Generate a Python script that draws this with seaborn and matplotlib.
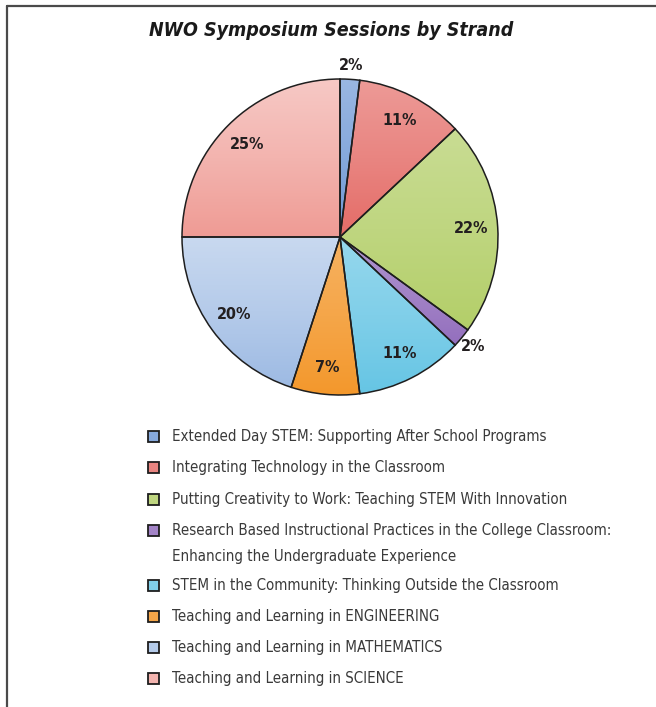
import colorsys
import numpy as np
import matplotlib
matplotlib.use("Agg")
import matplotlib.pyplot as plt
from matplotlib.patches import Rectangle
from matplotlib.lines import Line2D
from matplotlib.colors import to_rgb, LinearSegmentedColormap
import seaborn as sns

# ---- data ----
categories = [
    "Extended Day STEM: Supporting After School Programs",
    "Integrating Technology in the Classroom",
    "Putting Creativity to Work: Teaching STEM With Innovation",
    "Research Based Instructional Practices in the College Classroom:\nEnhancing the Undergraduate Experience",
    "STEM in the Community: Thinking Outside the Classroom",
    "Teaching and Learning in ENGINEERING",
    "Teaching and Learning in MATHEMATICS",
    "Teaching and Learning in SCIENCE",
]
shares = [2, 11, 22, 2, 11, 7, 20, 25]
colors = ["#86a9dc", "#e98581", "#bfd680", "#a384c7",
          "#80cfe9", "#f5a649", "#b5cbea", "#f3b4af"]
title = "NWO Symposium Sessions by Strand"

sns.set_theme(style="white")
FONT = ["Liberation Sans Narrow", "DejaVu Sans"]
plt.rcParams["font.family"] = FONT

W, H = 656, 707
fig = plt.figure(figsize=(W / 100, H / 100), dpi=100)
fig.patch.set_facecolor("white")

# overlay axes in pixel coordinates
lax = fig.add_axes([0, 0, 1, 1])
lax.set_xlim(0, W)
lax.set_ylim(H, 0)
lax.axis("off")

# frame
lax.add_line(Line2D([6.5, 6.5], [H + 5, 5.5], color="#4a4a4a", lw=1.6))
lax.add_line(Line2D([6.5, W + 5], [5.5, 5.5], color="#4a4a4a", lw=1.6))

# title
lax.text(331, 31, title, ha="center", va="center", fontsize=14,
         fontweight="bold", fontstyle="italic", color="#1a1a1a",
         fontstretch="condensed")

# pie axes
cx, cy, R = 340, 237, 158
ax = fig.add_axes([(cx - R) / W, (H - cy - R) / H, 2 * R / W, 2 * R / H])

wedges, texts, autotexts = ax.pie(
    shares, colors=colors, startangle=90, counterclock=False, radius=1,
    autopct=lambda p: f"{p:.0f}%", pctdistance=0.83,
    wedgeprops=dict(edgecolor="#1e1e1e", linewidth=1.1),
    textprops=dict(fontsize=11.5, fontweight="bold", color="#231f20",
                   fontstretch="condensed"),
)


def shade(c, dl):
    h, l, s = colorsys.rgb_to_hls(*to_rgb(c))
    return colorsys.hls_to_rgb(h, min(1, max(0, l + dl)), s)


# subtle vertical gradient inside each wedge
for w, col in zip(wedges, colors):
    ext = w.get_path().get_extents()
    cmap = LinearSegmentedColormap.from_list(
        "g", [shade(col, -0.06), col, shade(col, 0.05)])
    grad = np.linspace(0, 1, 256).reshape(-1, 1)
    im = ax.imshow(grad, cmap=cmap, origin="lower", aspect="auto",
                   extent=(ext.x0, ext.x1, ext.y0, ext.y1), zorder=0.5,
                   interpolation="bilinear")
    im.set_clip_path(w)
    w.set_facecolor("none")
    w.set_zorder(1)
ax.set_xlim(-1, 1)
ax.set_ylim(-1, 1)
ax.set_aspect("equal")
ax.axis("off")

for w, t, v in zip(wedges, autotexts, shares):
    if v <= 3:
        th = np.deg2rad((w.theta1 + w.theta2) / 2)
        t.set_position((1.09 * np.cos(th), 1.09 * np.sin(th)))
    t.set_clip_on(False)
    t.set_zorder(3)

# legend (manual layout)
rows_y = [436, 467, 499, 530, 585, 616, 647, 678]
line_gap = 26
for cat, col, y in zip(categories, colors, rows_y):
    n = cat.count("\n")
    lax.add_patch(Rectangle((147.5, y - 5.5), 11, 11, facecolor=col,
                            edgecolor="#1e1e1e", linewidth=1.3))
    lax.text(172, y + 5 + n * line_gap, cat, ha="left", va="baseline",
             fontsize=10.8, color="#3a3a3a", linespacing=1.9,
             fontstretch="condensed")

fig.savefig("out.png", dpi=100, facecolor="white")
